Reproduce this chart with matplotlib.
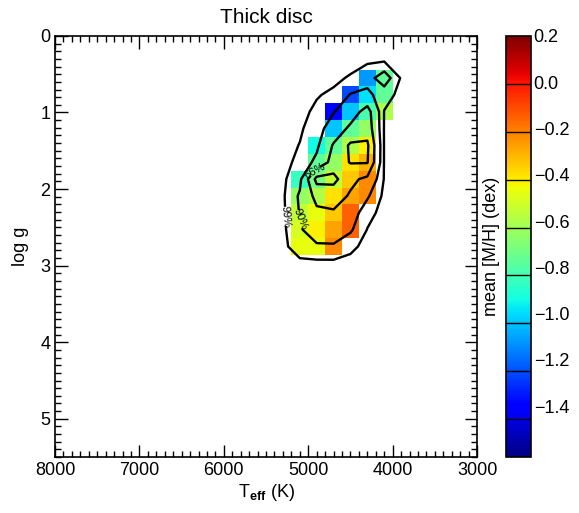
import numpy as np
import matplotlib
matplotlib.use('Agg')
import matplotlib.pyplot as plt
from matplotlib.ticker import MultipleLocator

plt.rcParams['font.family'] = ['Liberation Sans', 'DejaVu Sans']
plt.rcParams['mathtext.fontset'] = 'custom'
plt.rcParams['mathtext.rm'] = 'Liberation Sans'
plt.rcParams['mathtext.bf'] = 'Liberation Sans:bold'

nan = np.nan

# bin centres (Teff hot -> cool, logg top -> bottom)
teff_c = [5300, 5100, 4900, 4700, 4500, 4300, 4100, 3900]
logg_c = [0.11, 0.33, 0.55, 0.77, 0.99, 1.21, 1.43, 1.65, 1.87, 2.09, 2.31, 2.53, 2.75, 2.97, 3.19]
teff_bin = 200
logg_bin = 0.22

# mean [M/H] per bin
mean_mh = [
    [nan, nan, nan, nan, nan, nan, nan, nan],
    [nan, nan, nan, nan, nan, nan, nan, nan],
    [nan, nan, nan, nan, nan, -1.12, -0.77, nan],
    [nan, nan, nan, nan, -1.26, -0.99, -0.77, nan],
    [nan, nan, nan, -1.42, -1.04, -0.82, -0.60, nan],
    [nan, nan, nan, -1.04, -0.77, -0.66, nan, nan],
    [nan, nan, -0.94, -0.77, -0.60, -0.43, nan, nan],
    [nan, nan, -0.77, -0.66, -0.40, -0.31, nan, nan],
    [nan, -0.86, -0.72, -0.55, -0.35, -0.23, nan, nan],
    [nan, -0.66, -0.60, -0.40, -0.28, -0.23, nan, nan],
    [nan, -0.56, -0.47, -0.35, -0.15, nan, nan, nan],
    [nan, -0.51, -0.43, -0.28, -0.15, nan, nan, nan],
    [nan, -0.47, -0.47, -0.23, nan, nan, nan, nan],
    [nan, nan, nan, nan, nan, nan, nan, nan],
    [nan, nan, nan, nan, nan, nan, nan, nan],
]

# star density per bin (arbitrary units) used for the contours
density = [
    [0, 0, 0, 0, 0, 0, 0, 0],
    [0, 0, 0, 0, 0, 0.7, 0.9, 0],
    [0, 0, 0, 0.4, 1.3, 2.5, 6.0, 0.7],
    [0, 0, 0.8, 1.5, 4.2, 5.0, 2.0, 0.3],
    [0, 0.3, 1.5, 3.8, 6.5, 11.0, 0.9, 0],
    [0, 0.6, 2.5, 6.0, 10.0, 12.0, 0.8, 0],
    [0, 1.1, 3.2, 9.5, 14.8, 14.8, 0.8, 0],
    [0.3, 1.6, 5.0, 11.0, 14.3, 14.3, 0.8, 0],
    [0.5, 3.0, 15.5, 15.5, 10.0, 8.0, 0.8, 0],
    [0.6, 4.5, 10.5, 11.0, 8.5, 4.5, 0.3, 0],
    [0.5, 4.2, 8.0, 8.5, 6.0, 2.0, 0, 0],
    [0.4, 3.6, 6.0, 6.0, 4.5, 0.9, 0, 0],
    [0.2, 2.8, 3.5, 3.6, 1.8, 0, 0, 0],
    [0, 0.2, 0.3, 0.3, 0, 0, 0, 0],
    [0, 0, 0, 0, 0, 0, 0, 0],
]
levels = [1.0, 4.0, 9.0, 14.0]
level_names = {1.0: '99%', 4.0: '90%', 9.0: '66%'}
label_pos = [(5240, 2.35), (5050, 2.35), (4930, 1.72)]

cb_ticks = [0.2, 0.0, -0.2, -0.4, -0.6, -0.8, -1.0, -1.2, -1.4]
vmin, vmax = -1.62, 0.2

teff_c = np.array(teff_c)
logg_c = np.array(logg_c)
teff_e = np.append(teff_c + teff_bin / 2, teff_c[-1] - teff_bin / 2)
logg_e = np.append(logg_c - logg_bin / 2, logg_c[-1] + logg_bin / 2)
mh = np.ma.masked_invalid(np.array(mean_mh))

fig = plt.figure(figsize=(5.79, 5.13), dpi=100)
ax = fig.add_axes([0.095, 0.109, 0.729, 0.821])
cax = fig.add_axes([0.874, 0.109, 0.043, 0.821])

pc = ax.pcolormesh(teff_e, logg_e, mh, cmap='jet', vmin=vmin, vmax=vmax)
cs = ax.contour(teff_c, logg_c, np.array(density), levels=levels, colors='k', linewidths=1.7)
ax.clabel(cs, levels=levels[:3], fmt=level_names, fontsize=8, inline=True, manual=label_pos)

ax.set_xlim(8000, 3000)
ax.set_ylim(5.5, 0)
ax.xaxis.set_major_locator(MultipleLocator(1000))
ax.xaxis.set_minor_locator(MultipleLocator(100))
ax.yaxis.set_major_locator(MultipleLocator(1))
ax.yaxis.set_minor_locator(MultipleLocator(0.1))
ax.tick_params(which='both', direction='in', top=True, right=True, labelsize=13, width=1)
ax.tick_params(which='major', length=9)
ax.tick_params(which='minor', length=4)
for s in ax.spines.values():
    s.set_linewidth(1.2)
ax.set_title('Thick disc', fontsize=15, pad=9)
ax.set_xlabel(r'$\mathrm{T}_{\mathbf{eff}}$ (K)', fontsize=13, labelpad=2)
ax.set_ylabel('log g', fontsize=13, labelpad=8)

cb = fig.colorbar(pc, cax=cax, ticks=cb_ticks)
cb.ax.set_yticklabels(['%.1f' % t if t >= 0 else '\u2212%.1f' % abs(t) for t in cb_ticks])
cb.ax.tick_params(length=0, labelsize=13, pad=2)
cb.outline.set_linewidth(1.2)
for k in range(1, 9):
    cb.ax.axhline(vmax - 0.207 * k, color='k', lw=1)
cb.set_label('mean [M/H] (dex)', fontsize=13, labelpad=4)
cb.ax.yaxis.set_label_position('left')

plt.savefig('out.png', dpi=100)
